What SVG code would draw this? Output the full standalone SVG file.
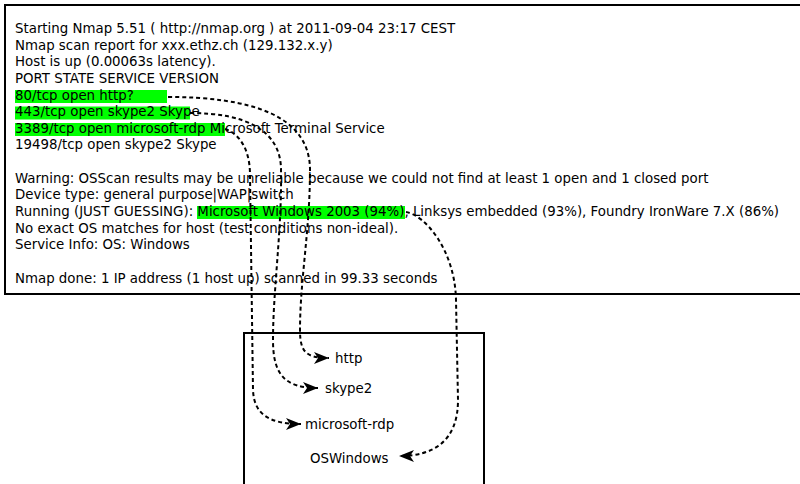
<svg xmlns="http://www.w3.org/2000/svg" width="800" height="484" viewBox="0 0 800 484">
<style>
  .t { font-family: "DejaVu Sans", sans-serif; font-size: 13.35px; fill: #000; }
  .hl { fill: #00ff00; }
  .box { fill: none; stroke: #000; stroke-width: 2; }
  .c { fill: none; stroke: #000; stroke-width: 2; stroke-dasharray: 4 3; }
</style>
<defs>
  <marker id="ah" markerUnits="userSpaceOnUse" markerWidth="17" markerHeight="14" refX="16" refY="7" orient="auto">
    <path d="M1,1 L16,7 L1,13 L5,7 z" fill="#000"/>
  </marker>
</defs>
<rect width="800" height="484" fill="#fff"/>
<g id="nmap-output">
  <rect class="box" x="5" y="5" width="800" height="289"/>
  <rect class="hl" x="15" y="90" width="152" height="13"/>
  <rect class="hl" x="15" y="106.5" width="175" height="13"/>
  <rect class="hl" x="15" y="123" width="210" height="13"/>
  <rect class="hl" x="197" y="206" width="208" height="13"/>
  <text class="t" x="15" y="33">Starting Nmap 5.51 ( http://nmap.org ) at 2011-09-04 23:17 CEST</text>
  <text class="t" x="15" y="49.6">Nmap scan report for xxx.ethz.ch (129.132.x.y)</text>
  <text class="t" x="15" y="66.3">Host is up (0.00063s latency).</text>
  <text class="t" x="15" y="82.9">PORT STATE SERVICE VERSION</text>
  <text class="t" x="15" y="99.5">80/tcp open http?</text>
  <text class="t" x="15" y="116.2">443/tcp open skype2 Skype</text>
  <text class="t" x="15" y="132.8">3389/tcp open microsoft-rdp Microsoft Terminal Service</text>
  <text class="t" x="15" y="149.4">19498/tcp open skype2 Skype</text>
  <text class="t" x="15" y="182.7">Warning: OSScan results may be unreliable because we could not find at least 1 open and 1 closed port</text>
  <text class="t" x="15" y="199.3">Device type: general purpose|WAP|switch</text>
  <text class="t" x="15" y="215.9">Running (JUST GUESSING): Microsoft Windows 2003 (94%), Linksys embedded (93%), Foundry IronWare 7.X (86%)</text>
  <text class="t" x="15" y="232.6">No exact OS matches for host (test conditions non-ideal).</text>
  <text class="t" x="15" y="249.2">Service Info: OS: Windows</text>
  <text class="t" x="15" y="282.5">Nmap done: 1 IP address (1 host up) scanned in 99.33 seconds</text>
</g>
<g id="summary">
  <rect class="box" x="244" y="333" width="240" height="160"/>
  <text class="t" x="335" y="362.5">http</text>
  <text class="t" x="325" y="393">skype2</text>
  <text class="t" x="305" y="428.5">microsoft-rdp</text>
  <text class="t" x="310" y="462.5">OSWindows</text>
</g>
<g id="connectors">
  <path class="c" marker-end="url(#ah)" d="M168,97 C250,97 310,115 310,170 C310,230 300,280 300,330 C300,352 306,358 329,358"/>
  <path class="c" marker-end="url(#ah)" d="M190,113 C245,113 281,130 281,170 C282,230 273,290 273,340 C273,375 285,388 318,388"/>
  <path class="c" marker-end="url(#ah)" d="M225,129 C240,134 250,150 250,175 L253,390 C254,415 270,424 301,424"/>
  <path class="c" marker-end="url(#ah)" d="M406,212 C425,215 455,250 456,300 L458,400 C458,440 435,456 399,456"/>
</g>
</svg>
